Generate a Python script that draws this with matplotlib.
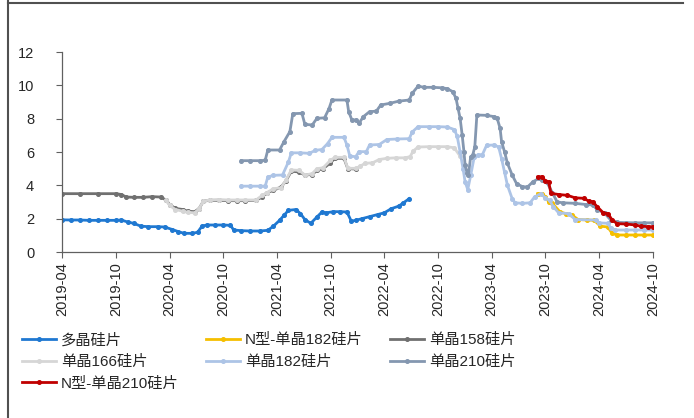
import matplotlib
matplotlib.use("Agg")
import matplotlib.pyplot as plt
from matplotlib.lines import Line2D
import pandas as pd

plt.rcParams['font.family'] = ['Liberation Sans', 'Noto Sans CJK SC', 'DejaVu Sans']

# ---- data (price) ----
poly_dates = ['2019-04-01', '2019-05-01', '2019-06-01', '2019-07-01', '2019-08-01', '2019-09-01',
              '2019-10-01', '2019-10-20', '2019-11-10', '2019-12-01', '2019-12-25', '2020-01-20',
              '2020-02-20', '2020-03-15', '2020-04-10', '2020-05-01', '2020-05-20', '2020-06-15',
              '2020-07-05', '2020-07-20', '2020-08-05', '2020-09-01', '2020-10-01', '2020-10-25',
              '2020-11-05', '2020-12-01', '2021-01-01', '2021-02-01', '2021-03-01', '2021-03-20',
              '2021-04-10', '2021-04-25', '2021-05-10', '2021-06-05', '2021-06-20', '2021-07-05',
              '2021-07-25', '2021-08-15', '2021-09-01', '2021-09-15', '2021-10-10', '2021-11-01',
              '2021-11-25', '2021-12-10', '2021-12-25', '2022-01-15', '2022-02-10', '2022-03-10',
              '2022-04-01', '2022-04-25', '2022-05-20', '2022-06-05', '2022-06-25']
poly_vals = [1.93, 1.92, 1.92, 1.90, 1.90, 1.90,
             1.90, 1.92, 1.80, 1.72, 1.55, 1.52,
             1.52, 1.50, 1.35, 1.22, 1.12, 1.12,
             1.18, 1.55, 1.62, 1.62, 1.62, 1.60,
             1.32, 1.28, 1.26, 1.26, 1.30, 1.55,
             1.90, 2.20, 2.50, 2.55, 2.30, 1.95,
             1.72, 2.10, 2.40, 2.35, 2.42, 2.42,
             2.40, 1.85, 1.90, 2.00, 2.12, 2.25,
             2.35, 2.60, 2.75, 2.95, 3.20]

n182_dates = ['2023-09-05', '2023-09-20', '2023-10-01', '2023-10-12', '2023-10-25', '2023-11-20',
              '2023-12-10', '2024-01-01', '2024-01-20', '2024-02-20', '2024-03-15', '2024-04-05',
              '2024-04-30', '2024-05-15', '2024-06-01', '2024-07-01', '2024-08-01', '2024-09-01',
              '2024-10-01']
n182_vals = [3.50, 3.50, 3.32, 3.02, 2.92, 2.40,
             2.30, 2.20, 1.95, 1.92, 1.90, 1.55,
             1.50, 1.12, 1.02, 1.02, 1.02, 1.02,
             1.02]

m158_dates = ['2019-04-01', '2019-06-01', '2019-08-01', '2019-10-01', '2019-10-20', '2019-11-05',
              '2019-12-01', '2020-01-01', '2020-02-01', '2020-03-01', '2020-03-20', '2020-04-01',
              '2020-04-20', '2020-05-15', '2020-06-01', '2020-06-25', '2020-07-10', '2020-07-25',
              '2020-08-15', '2020-09-15', '2020-10-15', '2020-11-15', '2020-12-15', '2021-01-20',
              '2021-02-10', '2021-02-25', '2021-03-20', '2021-04-15', '2021-05-01', '2021-05-20',
              '2021-06-15', '2021-07-05', '2021-07-30', '2021-08-15', '2021-09-05', '2021-09-30',
              '2021-10-15', '2021-11-15', '2021-11-28', '2021-12-25']
m158_vals = [3.50, 3.50, 3.50, 3.50, 3.45, 3.30,
             3.28, 3.28, 3.32, 3.30, 3.12, 2.85,
             2.62, 2.55, 2.45, 2.42, 2.60, 3.05,
             3.10, 3.10, 3.08, 3.08, 3.08, 3.10,
             3.30, 3.55, 3.70, 3.90, 4.25, 4.85,
             4.80, 4.62, 4.65, 4.90, 5.00, 5.35,
             5.62, 5.62, 5.00, 4.98]

m166_dates = ['2020-03-20', '2020-04-01', '2020-04-20', '2020-05-15', '2020-06-01', '2020-06-25',
              '2020-07-10', '2020-07-25', '2020-08-15', '2020-09-15', '2020-10-15', '2020-11-15',
              '2020-12-15', '2021-01-20', '2021-02-10', '2021-02-25', '2021-03-20', '2021-04-15',
              '2021-05-01', '2021-05-20', '2021-06-15', '2021-07-05', '2021-07-30', '2021-08-15',
              '2021-09-05', '2021-09-30', '2021-10-15', '2021-11-15', '2021-11-28', '2021-12-25',
              '2022-01-10', '2022-01-25', '2022-02-20', '2022-03-15', '2022-04-10', '2022-05-10',
              '2022-06-10', '2022-06-28', '2022-07-08', '2022-07-25', '2022-09-01', '2022-10-01',
              '2022-11-01', '2022-11-25', '2022-12-15']
m166_vals = [3.10, 2.80, 2.55, 2.45, 2.38, 2.35,
             2.60, 3.05, 3.12, 3.15, 3.12, 3.12,
             3.12, 3.12, 3.40, 3.55, 3.80, 3.85,
             4.30, 4.92, 4.90, 4.62, 4.70, 5.00,
             5.05, 5.50, 5.68, 5.68, 5.02, 5.02,
             5.15, 5.32, 5.35, 5.55, 5.62, 5.65,
             5.65, 5.72, 6.05, 6.30, 6.32, 6.32,
             6.32, 6.25, 5.75]

m182_dates = ['2020-12-01', '2021-01-01', '2021-02-01', '2021-02-20', '2021-03-01', '2021-03-20',
              '2021-04-20', '2021-05-10', '2021-05-20', '2021-06-20', '2021-07-20', '2021-08-10',
              '2021-09-01', '2021-09-20', '2021-10-05', '2021-11-15', '2021-11-25', '2021-12-05',
              '2021-12-25', '2022-01-05', '2022-01-30', '2022-02-10', '2022-03-15', '2022-04-10',
              '2022-05-15', '2022-06-25', '2022-07-05', '2022-07-25', '2022-09-01', '2022-10-01',
              '2022-11-01', '2022-11-25', '2022-12-05', '2022-12-15', '2022-12-25', '2023-01-01',
              '2023-01-10', '2023-01-20', '2023-02-01', '2023-02-15', '2023-03-01', '2023-03-15',
              '2023-04-10', '2023-04-25', '2023-05-05', '2023-05-15', '2023-05-25', '2023-06-10',
              '2023-06-20', '2023-07-15', '2023-08-10', '2023-08-25', '2023-09-15', '2023-10-01',
              '2023-10-15', '2023-10-28', '2023-11-15', '2023-12-20', '2024-01-10', '2024-03-20',
              '2024-04-01', '2024-04-30', '2024-05-10', '2024-05-25', '2024-07-01', '2024-08-01',
              '2024-09-01', '2024-10-01']
m182_vals = [3.95, 3.95, 3.95, 3.95, 4.50, 4.60,
             4.62, 5.40, 5.95, 5.95, 5.92, 6.10,
             6.15, 6.50, 6.88, 6.88, 6.42, 5.75,
             5.72, 6.02, 6.02, 6.42, 6.45, 6.75,
             6.78, 6.80, 7.20, 7.52, 7.52, 7.52,
             7.50, 7.35, 6.95, 6.00, 5.00, 4.20,
             3.75, 4.60, 5.70, 5.82, 5.85, 6.40,
             6.42, 6.30, 5.60, 4.80, 4.00, 3.20,
             2.95, 2.92, 2.95, 3.30, 3.50, 3.25,
             3.10, 2.72, 2.35, 2.30, 1.95, 1.92,
             1.75, 1.72, 1.45, 1.32, 1.32, 1.32,
             1.32, 1.32]

m210_dates = ['2020-12-01', '2021-01-01', '2021-02-01', '2021-02-20', '2021-03-01', '2021-04-10',
              '2021-04-25', '2021-05-15', '2021-05-25', '2021-06-25', '2021-07-05', '2021-07-30',
              '2021-08-15', '2021-09-10', '2021-09-25', '2021-10-05', '2021-11-25', '2021-12-01',
              '2021-12-12', '2021-12-25', '2022-01-05', '2022-01-20', '2022-02-10', '2022-03-05',
              '2022-03-20', '2022-04-20', '2022-05-20', '2022-06-25', '2022-07-05', '2022-07-25',
              '2022-08-15', '2022-09-15', '2022-10-15', '2022-11-01', '2022-11-20', '2022-12-01',
              '2022-12-08', '2022-12-15', '2022-12-22', '2022-12-28', '2023-01-01', '2023-01-08',
              '2023-01-12', '2023-01-20', '2023-01-27', '2023-02-03', '2023-02-10', '2023-03-15',
              '2023-04-10', '2023-04-20', '2023-04-30', '2023-05-05', '2023-05-15', '2023-05-25',
              '2023-06-10', '2023-06-25', '2023-07-15', '2023-08-01', '2023-08-20', '2023-09-10',
              '2023-09-20', '2023-10-05', '2023-10-25', '2023-11-10', '2023-12-01', '2024-01-10',
              '2024-02-15', '2024-03-10', '2024-03-25', '2024-04-20', '2024-05-10', '2024-06-01',
              '2024-07-01', '2024-08-01', '2024-09-01', '2024-10-01']
m210_vals = [5.48, 5.48, 5.48, 5.50, 6.12, 6.12,
             6.62, 7.22, 8.30, 8.32, 7.66, 7.62,
             8.02, 8.05, 8.60, 9.12, 9.12, 8.42,
             7.92, 7.92, 7.72, 8.12, 8.42, 8.45,
             8.82, 8.92, 9.05, 9.12, 9.52, 9.95,
             9.88, 9.88, 9.85, 9.80, 9.62, 9.22,
             8.62, 8.02, 7.02, 6.02, 5.22, 4.72,
             4.62, 5.72, 5.82, 6.32, 8.22, 8.20,
             8.12, 8.02, 7.42, 6.62, 6.02, 5.32,
             4.62, 4.10, 3.92, 3.90, 4.22, 4.42,
             4.32, 4.22, 3.55, 3.00, 2.95, 2.92,
             2.85, 2.82, 2.55, 2.32, 1.92, 1.78,
             1.76, 1.75, 1.75, 1.75]

n210_dates = ['2023-09-05', '2023-09-20', '2023-10-01', '2023-10-12', '2023-10-20', '2023-11-15',
              '2023-12-15', '2024-01-10', '2024-02-10', '2024-02-25', '2024-03-10', '2024-03-25',
              '2024-04-15', '2024-05-01', '2024-05-15', '2024-06-01', '2024-07-01', '2024-08-01',
              '2024-08-20', '2024-09-15', '2024-10-01']
n210_vals = [4.50, 4.52, 4.25, 4.22, 3.52, 3.45,
             3.40, 3.25, 3.22, 3.05, 3.02, 2.72,
             2.35, 2.30, 1.92, 1.70, 1.68, 1.62,
             1.55, 1.52, 1.52]

series = [
    ('多晶硅片', poly_dates, poly_vals, '#1f78d1'),
    ('N型-单晶182硅片', n182_dates, n182_vals, '#f5bf00'),
    ('单晶158硅片', m158_dates, m158_vals, '#707070'),
    ('单晶166硅片', m166_dates, m166_vals, '#d6d6d6'),
    ('单晶182硅片', m182_dates, m182_vals, '#adc4e6'),
    ('单晶210硅片', m210_dates, m210_vals, '#8497b0'),
    ('N型-单晶210硅片', n210_dates, n210_vals, '#c00000'),
]

tick_labels = ['2019-04', '2019-10', '2020-04', '2020-10', '2021-04', '2021-10',
               '2022-04', '2022-10', '2023-04', '2023-10', '2024-04', '2024-10']

fig = plt.figure(figsize=(6.94, 4.18), dpi=100)
ax = fig.add_axes([62 / 694, 1 - 252 / 418, (653 - 62) / 694, 200 / 418])

handles = {}
for name, d, v, c in series:
    ln, = ax.plot(pd.to_datetime(d), v, color=c, lw=2.0, marker='o', ms=2.6,
                  mec=c, mfc=c, label=name)
    handles[name] = ln

ticks = pd.to_datetime([t + '-01' for t in tick_labels])
ax.set_xticks(ticks)
ax.set_xticklabels(tick_labels, rotation=90, fontsize=10.5, color='#262626')
ax.set_xlim(ticks[0], ticks[-1])
ax.set_ylim(0, 12)
ax.set_yticks(range(0, 13, 2))
ax.tick_params(axis='y', labelsize=10.5, colors='#262626', length=4, width=0.8, pad=16)
ax.tick_params(axis='x', length=4, width=0.8, pad=3, colors='#262626')
for s in ['top', 'right']:
    ax.spines[s].set_visible(False)
for s in ['left', 'bottom']:
    ax.spines[s].set_color('#606060')
    ax.spines[s].set_linewidth(0.9)
ax.tick_params(axis='both', color='#606060')

# legend: row-major look with 3 columns
order = ['多晶硅片', '单晶166硅片', 'N型-单晶210硅片',
         'N型-单晶182硅片', '单晶182硅片',
         '单晶158硅片', '单晶210硅片']
fig.legend([handles[k] for k in order], order, loc='upper left',
           bbox_to_anchor=(22 / 694, 1 - 333 / 418), ncol=3, frameon=False,
           fontsize=11, handlelength=2.2, handletextpad=0.35, columnspacing=1.8,
           labelspacing=0.5, borderpad=0, borderaxespad=0, labelcolor='#262626')

# outer frame lines (left and top)
fig.add_artist(Line2D([8 / 694, 8 / 694], [0, 1], color='#505050', lw=1.5))
fig.add_artist(Line2D([8 / 694, 683 / 694], [1 - 3 / 418, 1 - 3 / 418], color='#505050', lw=1.5))

fig.savefig('out.png', dpi=100)
